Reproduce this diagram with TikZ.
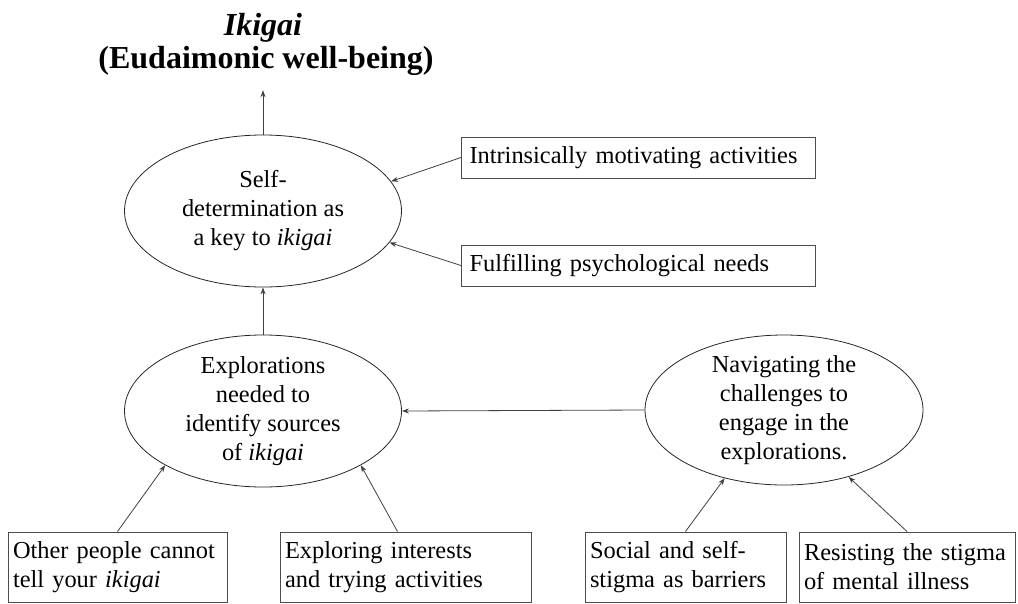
\documentclass[tikz,border=0pt]{standalone}
\usepackage{fontspec}
\setmainfont{Liberation Serif}
\usepackage{tikz}
\usetikzlibrary{shapes.geometric,arrows.meta}

\newcommand{\ikifont}{\fontsize{24.4}{29}\selectfont}
\newcommand{\ikititle}{\fontsize{32}{36}\selectfont\bfseries}

\begin{document}
\begin{tikzpicture}[x=1pt, y=-1pt,
    oval/.style={draw=black!85, line width=0.8pt, ellipse, inner sep=-6pt, align=center, font=\ikifont},
    box/.style={draw=black!70, line width=1pt, inner xsep=5pt, align=left, font=\ikifont},
    arrow/.style={draw=black!75, line width=0.8pt, -{Stealth[length=7pt,width=5pt]}}]

    \useasboundingbox (0,0) rectangle (1018,603);

    %Title
    \node[anchor=base, inner sep=0pt, font=\ikititle] (title1) at (263,35) {\textit{Ikigai}}; %Top line
    \node[anchor=base, inner sep=0pt, font=\ikititle] (title2) at (266,68) {(Eudaimonic well-being)}; %Second line

    %Ellipses
    \node[oval, minimum width=277pt, minimum height=152pt] (self) at (263,211) {Self-\\determination as\\a key to \textit{ikigai}}; %Upper left
    \node[oval, minimum width=277pt, minimum height=152pt] (explore) at (263,411) {Explorations\\needed to\\identify sources\\of \textit{ikigai}}; %Lower left
    \node[oval, minimum width=278pt, minimum height=150pt] (navigate) at (784,410) {Navigating the\\challenges to\\engage in the\\explorations.}; %Right

    %Boxes on the right
    \node[box, inner xsep=8pt, text width=338pt, minimum height=41pt, anchor=west] (intrinsic) at (461,157.5) {Intrinsically motivating activities};
    \node[box, inner xsep=8pt, text width=338pt, minimum height=41pt, anchor=west] (needs) at (461,265.5) {Fulfilling psychological needs};

    %Boxes at the bottom
    \node[box, text width=209pt, minimum height=70pt] (others) at (117.5,567) {Other people cannot\\tell your \textit{ikigai}};
    \node[box, text width=241pt, minimum height=70pt] (interests) at (405.5,567) {Exploring interests\\and trying activities};
    \node[box, text width=191pt, minimum height=70pt] (social) at (685.5,567) {Social and self-\\stigma as barriers};
    \node[box, text width=206pt, minimum height=70pt] (resist) at (907,567) {Resisting the stigma\\of mental illness};

    %Arrows
    \draw[arrow, shorten >=15pt] (self.north) -- (self.north |- title2.south); %Up to the title
    \draw[arrow] (intrinsic.west) -- (self.13);
    \draw[arrow] (needs.west) -- (self.-14);
    \draw[arrow] (explore.north) -- (self.south);
    \draw[arrow] (navigate.west) -- (explore.east);
    \draw[arrow] (others.north) -- (explore.209);
    \draw[arrow] ([xshift=-8pt]interests.north) -- (explore.-29);
    \draw[arrow] (social.north) -- (navigate.229);
    \draw[arrow] (resist.north) -- (navigate.-46);

\end{tikzpicture}
\end{document}
